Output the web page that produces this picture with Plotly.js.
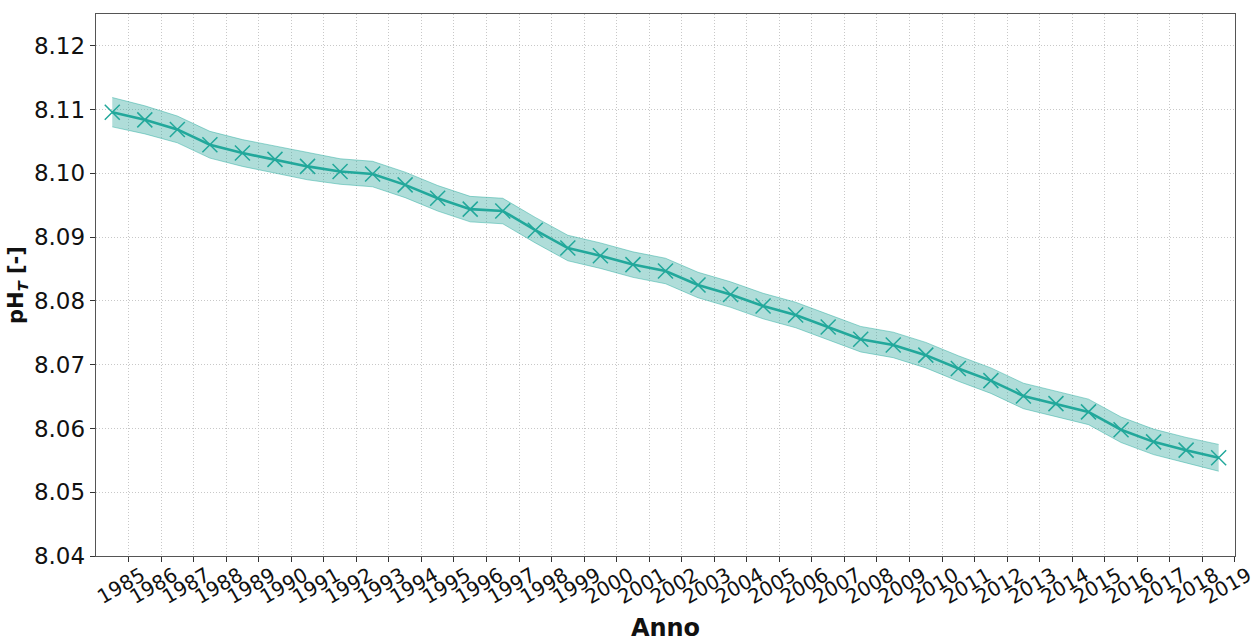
<!DOCTYPE html>
<html>
<head>
<meta charset="utf-8">
<script src="https://cdn.plot.ly/plotly-3.0.1.min.js"></script>
<style>html,body{margin:0;padding:0;background:#fff;}#chart{width:1255px;height:642px;}</style>
</head>
<body>
<div id="chart"></div>
<script>
// Annual mean pH_T, plotted at mid-year
const years = [1984.5,1985.5,1986.5,1987.5,1988.5,1989.5,1990.5,1991.5,1992.5,1993.5,
  1994.5,1995.5,1996.5,1997.5,1998.5,1999.5,2000.5,2001.5,2002.5,2003.5,
  2004.5,2005.5,2006.5,2007.5,2008.5,2009.5,2010.5,2011.5,2012.5,2013.5,
  2014.5,2015.5,2016.5,2017.5,2018.5];
const phT = [8.1096,8.1084,8.1069,8.1045,8.1032,8.1022,8.1011,8.1003,8.0999,8.0982,
  8.0961,8.0944,8.0941,8.0911,8.0883,8.0871,8.0857,8.0847,8.0825,8.0810,
  8.0792,8.0778,8.0759,8.0740,8.0731,8.0715,8.0694,8.0675,8.0651,8.0639,
  8.0626,8.0598,8.0579,8.0566,8.0554];
const phUncert = [0.0023,0.0022,0.0021,0.0021,0.0021,0.0021,0.0021,0.0020,0.0020,0.0020,
  0.0020,0.0020,0.0020,0.0020,0.0020,0.0020,0.0020,0.0020,0.0020,0.0020,
  0.0020,0.0020,0.0020,0.0020,0.0020,0.0020,0.0020,0.0020,0.0020,0.0020,
  0.0020,0.0020,0.0020,0.0020,0.0021];
const tickYears = [];
for (let y = 1985; y <= 2019; y++) tickYears.push(y);
const tickLabels = tickYears.map(String);
const yTicks = [8.04,8.05,8.06,8.07,8.08,8.09,8.10,8.11,8.12];
const yTickLabels = ['8.04','8.05','8.06','8.07','8.08','8.09','8.10','8.11','8.12'];

const upper = phT.map((v,i)=>v+phUncert[i]);
const lower = phT.map((v,i)=>v-phUncert[i]);
const teal = '#22a89b';

const traces = [
  {x: years, y: lower, mode:'lines', line:{color:'rgba(34,168,155,0.45)', width:1}, hoverinfo:'skip', showlegend:false},
  {x: years, y: upper, mode:'lines', fill:'tonexty', fillcolor:'rgba(34,160,150,0.36)',
   line:{color:'rgba(34,168,155,0.45)', width:1}, hoverinfo:'skip', showlegend:false},
  {x: years, y: phT, mode:'lines+markers', line:{color:teal, width:2.6},
   marker:{symbol:'x-thin-open', size:15, line:{color:teal, width:1.5}, color:teal}, showlegend:false}
];

const font = 'DejaVu Sans, Arial, sans-serif';
const layout = {
  width:1255, height:642,
  margin:{l:96, r:20, t:14, b:86},
  paper_bgcolor:'#fff', plot_bgcolor:'#fff',
  showlegend:false,
  xaxis:{
    range:[1984,2019.002], tickmode:'array', tickvals:tickYears, ticktext:tickLabels,
    tickangle:-30, ticklabelshift:13, ticklabelstandoff:-6, ticklabeloverflow:'allow',
    tickfont:{family:font, size:20, color:'#111'},
    ticks:'outside', ticklen:5, tickcolor:'#333',
    showgrid:true, gridcolor:'#c8c8c8', griddash:'1px,2px', gridwidth:1,
    showline:true, linecolor:'#555', linewidth:1.3, mirror:true, zeroline:false,
    automargin:false,
    title:{text:'Anno', font:{family:font, size:24, color:'#111', weight:'bold'}, standoff:32}
  },
  yaxis:{
    range:[8.04,8.125], tickmode:'array', tickvals:yTicks, ticktext:yTickLabels,
    tickfont:{family:font, size:23, color:'#111'},
    ticks:'outside', ticklen:5, tickcolor:'#333',
    showgrid:true, gridcolor:'#c8c8c8', griddash:'1px,2px', gridwidth:1,
    showline:true, linecolor:'#555', linewidth:1.3, mirror:true, zeroline:false,
    automargin:false,
    title:{text:'pH<sub><i>T</i></sub> [-]', font:{family:font, size:21, color:'#111', weight:'bold'}, standoff:4}
  }
};
Plotly.newPlot('chart', traces, layout, {displayModeBar:false, staticPlot:true});
</script>
</body>
</html>
